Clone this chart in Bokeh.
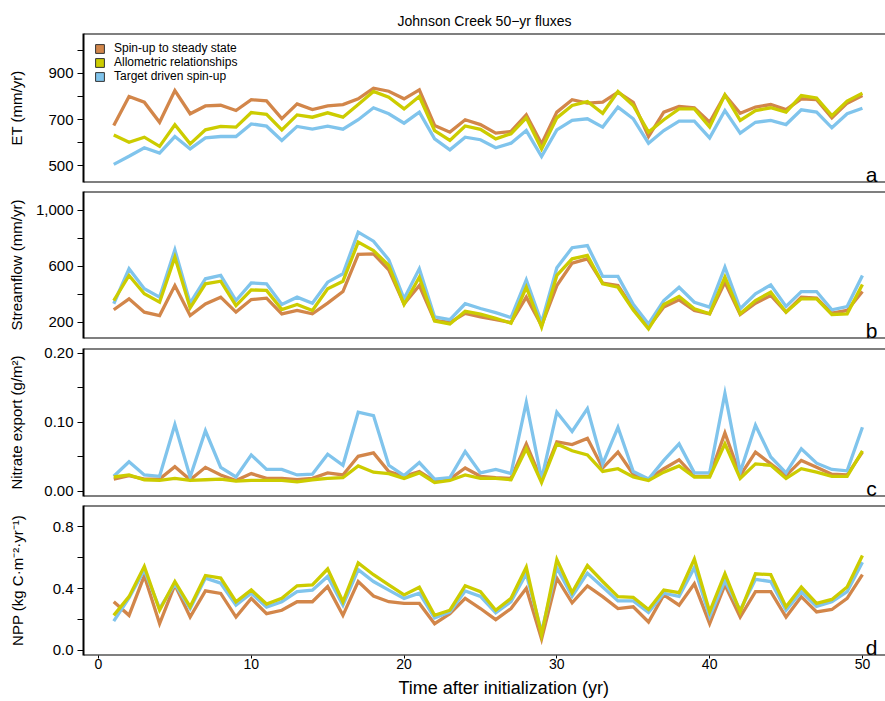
import numpy as np
from bokeh.plotting import figure
from bokeh.layouts import column
from bokeh.models import Range1d, FixedTicker, Label, Legend, LegendItem, Span, Title
from bokeh.embed import file_html
from bokeh.resources import INLINE

years = list(range(1, 51))
series_names = ["Spin-up to steady state", "Allometric relationships", "Target driven spin-up"]
colors = ["#D2864A", "#CCCC00", "#80C4EC"]

et_spinup = [674, 800, 775, 688, 826, 725, 759, 762, 739, 786, 781, 704, 768, 743, 759, 765, 790, 836, 823, 790,
             829, 674, 645, 699, 678, 641, 648, 720, 594, 732, 786, 771, 775, 819, 775, 626, 732, 757, 751, 688,
             807, 727, 754, 765, 743, 790, 786, 707, 771, 804]
et_allom = [633, 601, 623, 583, 677, 594, 655, 670, 667, 730, 722, 655, 720, 710, 729, 710, 765, 822, 797, 746,
            800, 652, 609, 672, 657, 616, 638, 707, 572, 707, 761, 778, 727, 822, 761, 645, 699, 746, 746, 667,
            807, 696, 739, 751, 732, 804, 793, 717, 780, 814]
et_target = [505, 540, 577, 554, 626, 572, 620, 626, 626, 681, 671, 609, 670, 658, 671, 658, 699, 751, 725, 684,
             732, 616, 568, 623, 612, 577, 597, 652, 539, 655, 696, 703, 667, 754, 703, 597, 652, 693, 693, 620,
             739, 641, 688, 696, 678, 742, 732, 664, 725, 749]

sf_spinup = [291, 369, 274, 250, 464, 250, 333, 381, 274, 364, 374, 262, 286, 262, 338, 421, 686, 690, 576, 333,
             464, 215, 200, 265, 240, 220, 200, 381, 179, 464, 624, 655, 481, 464, 300, 165, 310, 362, 286, 262,
             488, 257, 338, 393, 274, 381, 374, 267, 286, 421]
sf_allom = [357, 536, 405, 345, 667, 305, 476, 495, 321, 433, 429, 293, 329, 286, 441, 495, 774, 714, 607, 329,
            524, 210, 190, 280, 260, 230, 195, 452, 167, 536, 655, 679, 476, 452, 290, 155, 329, 386, 298, 262,
            524, 262, 357, 417, 274, 369, 369, 257, 262, 471]
sf_target = [334, 584, 441, 381, 719, 338, 512, 536, 357, 483, 476, 329, 381, 338, 488, 548, 845, 781, 648, 369,
             584, 240, 220, 334, 300, 270, 235, 505, 200, 591, 734, 750, 529, 529, 330, 190, 357, 452, 345, 310,
             595, 298, 405, 469, 314, 421, 421, 291, 314, 536]

no3_spinup = [0.018, 0.023, 0.018, 0.018, 0.036, 0.017, 0.035, 0.024, 0.016, 0.026, 0.019, 0.019, 0.017, 0.019,
              0.027, 0.024, 0.051, 0.056, 0.029, 0.022, 0.029, 0.015, 0.018, 0.034, 0.022, 0.020, 0.019, 0.069,
              0.016, 0.072, 0.068, 0.077, 0.034, 0.057, 0.025, 0.018, 0.033, 0.046, 0.022, 0.022, 0.085, 0.023,
              0.057, 0.040, 0.023, 0.045, 0.035, 0.025, 0.024, 0.057]
no3_allom = [0.021, 0.024, 0.017, 0.016, 0.019, 0.016, 0.017, 0.018, 0.015, 0.016, 0.016, 0.016, 0.014, 0.017,
             0.019, 0.020, 0.037, 0.028, 0.026, 0.019, 0.027, 0.013, 0.016, 0.024, 0.019, 0.019, 0.017, 0.062,
             0.013, 0.069, 0.059, 0.053, 0.029, 0.033, 0.021, 0.016, 0.028, 0.037, 0.021, 0.021, 0.069, 0.019,
             0.040, 0.038, 0.019, 0.033, 0.028, 0.022, 0.022, 0.059]
no3_target = [0.022, 0.043, 0.024, 0.022, 0.097, 0.021, 0.088, 0.035, 0.021, 0.053, 0.032, 0.032, 0.024, 0.025,
              0.054, 0.038, 0.115, 0.110, 0.038, 0.023, 0.042, 0.018, 0.020, 0.058, 0.027, 0.032, 0.026, 0.129,
              0.018, 0.115, 0.087, 0.120, 0.040, 0.093, 0.029, 0.018, 0.045, 0.069, 0.027, 0.027, 0.142, 0.028,
              0.096, 0.050, 0.027, 0.062, 0.041, 0.032, 0.030, 0.093]

npp_spinup = [0.315, 0.227, 0.483, 0.173, 0.424, 0.216, 0.385, 0.369, 0.216, 0.337, 0.238, 0.260, 0.315, 0.315,
              0.413, 0.227, 0.446, 0.352, 0.315, 0.304, 0.304, 0.173, 0.238, 0.337, 0.271, 0.199, 0.271, 0.402,
              0.074, 0.468, 0.308, 0.418, 0.348, 0.271, 0.282, 0.184, 0.359, 0.293, 0.431, 0.173, 0.424, 0.216,
              0.380, 0.380, 0.216, 0.348, 0.249, 0.265, 0.337, 0.490]
npp_allom = [0.227, 0.348, 0.544, 0.260, 0.446, 0.282, 0.485, 0.468, 0.315, 0.391, 0.300, 0.337, 0.418, 0.424,
             0.527, 0.315, 0.566, 0.490, 0.424, 0.359, 0.409, 0.227, 0.260, 0.418, 0.380, 0.260, 0.337, 0.538,
             0.100, 0.588, 0.374, 0.549, 0.446, 0.348, 0.343, 0.265, 0.391, 0.374, 0.592, 0.250, 0.496, 0.250,
             0.496, 0.490, 0.282, 0.410, 0.304, 0.330, 0.410, 0.614]
npp_target = [0.190, 0.340, 0.520, 0.270, 0.430, 0.270, 0.468, 0.435, 0.293, 0.370, 0.280, 0.315, 0.380, 0.390,
              0.479, 0.293, 0.523, 0.446, 0.390, 0.337, 0.370, 0.210, 0.250, 0.385, 0.350, 0.243, 0.315, 0.496,
              0.120, 0.536, 0.350, 0.500, 0.410, 0.320, 0.320, 0.245, 0.370, 0.350, 0.536, 0.220, 0.450, 0.260,
              0.460, 0.446, 0.260, 0.380, 0.285, 0.315, 0.380, 0.570]

et_ticks = [500, 600, 700, 800, 900, 1000]
et_labels = ["500", "", "700", "", "900", ""]
sf_ticks = [200, 400, 600, 800, 1000]
sf_labels = ["200", "", "600", "", "1,000"]
no3_ticks = [0.0, 0.05, 0.1, 0.15, 0.2]
no3_labels = ["0.00", "", "0.10", "", "0.20"]
npp_ticks = [0.0, 0.2, 0.4, 0.6, 0.8]
npp_labels = ["0.0", "", "0.4", "", "0.8"]
x_ticks = [0, 10, 20, 30, 40, 50]

FONT = "Liberation Sans"
W = 885
x_range = Range1d(-0.98, 51.51)


def make_panel(ylabel, y0, y1, ticks, labels, data, letter, letter_y, height, top, bottom,
               label_standoff, show_x=False, title=None):
    p = figure(width=W, height=height, x_range=x_range, y_range=Range1d(y0, y1),
               output_backend="svg", toolbar_location=None,
               x_axis_location="below" if show_x else None,
               min_border_left=83, min_border_right=0, min_border_top=top, min_border_bottom=bottom,
               title=title)
    p.grid.visible = False
    p.outline_line_color = None
    p.background_fill_color = "white"
    p.border_fill_color = "white"
    if title is not None:
        p.title.text_font = FONT
        p.title.text_font_size = "14px"
        p.title.text_font_style = "normal"
        p.title.align = "center"
        p.title.standoff = 10
        p.title.text_color = "black"

    # panel box: top and bottom rules plus the y axis line (right side runs off the page)
    p.add_layout(Span(location=y1, dimension="width", line_color="black", line_width=2))
    p.add_layout(Span(location=y0, dimension="width", line_color="black", line_width=2))

    ya = p.yaxis[0]
    ya.ticker = FixedTicker(ticks=ticks, minor_ticks=[])
    ya.major_label_overrides = {t: lab for t, lab in zip(ticks, labels)}
    ya.axis_line_color = "black"
    ya.axis_line_width = 2
    ya.major_tick_line_color = "black"
    ya.major_tick_out = 6
    ya.major_tick_in = 0
    ya.minor_tick_line_color = None
    ya.major_label_standoff = 4
    ya.major_label_text_font = FONT
    ya.major_label_text_font_size = "15px"
    ya.major_label_text_color = "black"
    ya.axis_label = ylabel
    ya.axis_label_text_font = FONT
    ya.axis_label_text_font_size = "15px"
    ya.axis_label_text_font_style = "normal"
    ya.axis_label_text_color = "black"
    ya.axis_label_standoff = label_standoff

    if show_x:
        xa = p.xaxis[0]
        xa.ticker = FixedTicker(ticks=x_ticks, minor_ticks=[])
        xa.axis_line_color = None
        xa.major_tick_line_color = "black"
        xa.major_tick_out = 3
        xa.major_tick_in = 0
        xa.minor_tick_line_color = None
        xa.major_label_standoff = 0
        xa.major_label_text_font = FONT
        xa.major_label_text_font_size = "14px"
        xa.major_label_text_color = "black"
        # x-axis title, centred on the (wider, cropped) original plotting region
        xlab = Title(text="Time after initialization (yr)", align="left", offset=315,
                     text_font=FONT, text_font_size="18px", text_font_style="normal",
                     text_color="black", standoff=8)
        p.add_layout(xlab, "below")

    # draw order: spin-up, target, allometric on top
    for i in [0, 2, 1]:
        p.line(years, data[i], line_color=colors[i], line_width=3.3, line_join="miter")

    p.add_layout(Label(x=50.6, y=letter_y, text=letter, text_font=FONT, text_font_size="21px",
                       text_align="center", text_baseline="alphabetic", text_color="black"))
    return p


pa = make_panel("ET (mm/yr)", 426.1, 1073.9, et_ticks, et_labels,
                [et_spinup, et_allom, et_target], "a", 461, 186, 33, 4, 20,
                title="Johnson Creek 50\u2212yr fluxes")
pb = make_panel("Streamflow (mm/yr)", 85.7, 1135.7, sf_ticks, sf_labels,
                [sf_spinup, sf_allom, sf_target], "b", 143, 157, 5, 5, 8)
pc = make_panel("Nitrate export (g/m\u00b2)", -0.00725, 0.2072, no3_ticks, no3_labels,
                [no3_spinup, no3_allom, no3_target], "c", 0.0043, 157, 5, 4, 16)
pd = make_panel("NPP (kg C\u00b7m\u207b\u00b2\u00b7yr\u207b\u00b9)", -0.033, 0.938, npp_ticks, npp_labels,
                [npp_spinup, npp_allom, npp_target], "d", 0.0197, 201, 5, 40, 24, show_x=True)

# legend with square swatches (proxy renderers that draw nothing in the plot)
items = []
for i, name in enumerate(series_names):
    nan = np.array([np.nan])
    r = pa.quad(left=nan, right=nan, top=nan, bottom=nan, fill_color=colors[i],
                line_color="#333333", line_width=1)
    items.append(LegendItem(label=name, renderers=[r]))
legend = Legend(items=items, location=(11, 99), orientation="vertical")
legend.glyph_width = 11
legend.glyph_height = 11
legend.label_standoff = 9
legend.spacing = 0
legend.padding = 0
legend.margin = 0
legend.label_height = 14
legend.label_text_font = FONT
legend.label_text_font_size = "12px"
legend.label_text_color = "black"
legend.border_line_color = None
legend.background_fill_alpha = 0
pa.add_layout(legend, "center")

layout = column(pa, pb, pc, pd, spacing=0)
open("out.html", "w").write(file_html(layout, INLINE))
